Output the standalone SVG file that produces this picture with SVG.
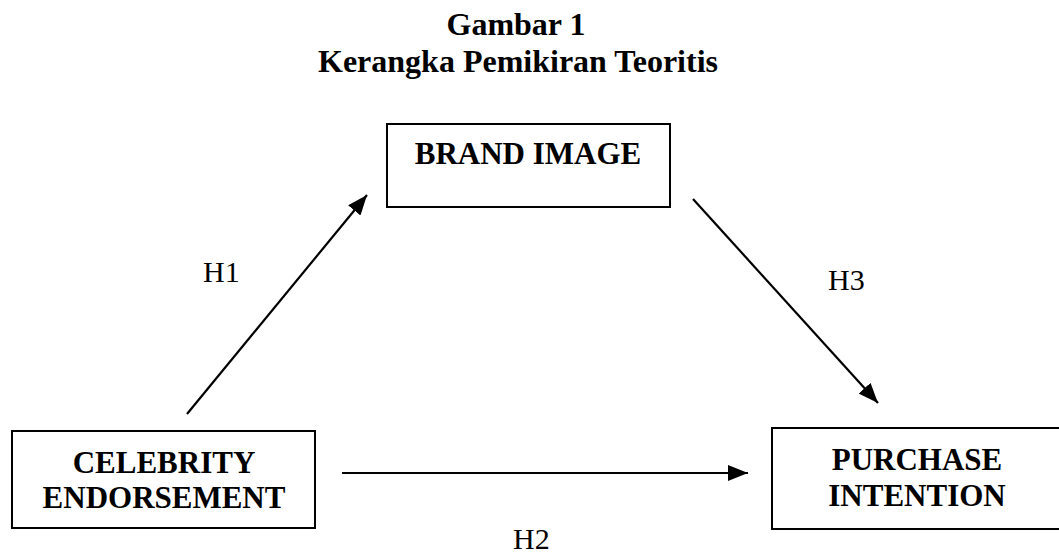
<svg xmlns="http://www.w3.org/2000/svg" width="1059" height="555" viewBox="0 0 1059 555">
  <style>
    .box { fill: #ffffff; stroke: #000000; stroke-width: 2; }
    .title { font-family: "Liberation Serif", "Times New Roman", serif; font-weight: bold; font-size: 32px; fill: #000; text-anchor: middle; }
    .node { font-family: "Liberation Serif", "Times New Roman", serif; font-weight: bold; font-size: 31px; fill: #000; text-anchor: middle; }
    .lbl { font-family: "Liberation Serif", "Times New Roman", serif; font-size: 30px; fill: #000; }
    .edge { stroke: #000000; stroke-width: 2.2; fill: none; marker-end: url(#arrow); }
  </style>
  <defs>
    <marker id="arrow" markerUnits="userSpaceOnUse" markerWidth="20" markerHeight="16" viewBox="0 0 20 16" refX="20" refY="8" orient="auto">
      <path d="M0,0 L20,8 L0,16 Z" fill="#000"/>
    </marker>
  </defs>
  <rect width="1059" height="555" fill="#ffffff"/>
  <g id="title">
    <text class="title" x="516" y="35">Gambar 1</text>
    <text class="title" x="518" y="72">Kerangka Pemikiran Teoritis</text>
  </g>
  <g id="brand-image">
    <rect class="box" x="387" y="124" width="283" height="83"/>
    <text class="node" x="528" y="164">BRAND IMAGE</text>
  </g>
  <g id="celebrity-endorsement">
    <rect class="box" x="12" y="431" width="303" height="97"/>
    <text class="node" x="164" y="473">CELEBRITY</text>
    <text class="node" x="164" y="508">ENDORSEMENT</text>
  </g>
  <g id="purchase-intention">
    <rect class="box" x="772" y="428" width="300" height="101"/>
    <text class="node" x="917" y="470">PURCHASE</text>
    <text class="node" x="917" y="506">INTENTION</text>
  </g>
  <g id="connectors">
    <line class="edge" x1="187" y1="414" x2="367" y2="195"/>
    <line class="edge" x1="693" y1="199" x2="878" y2="403"/>
    <line class="edge" x1="342" y1="473" x2="748" y2="473"/>
    <text class="lbl" x="203" y="282">H1</text>
    <text class="lbl" x="828" y="290">H3</text>
    <text class="lbl" x="513" y="549">H2</text>
  </g>
</svg>
